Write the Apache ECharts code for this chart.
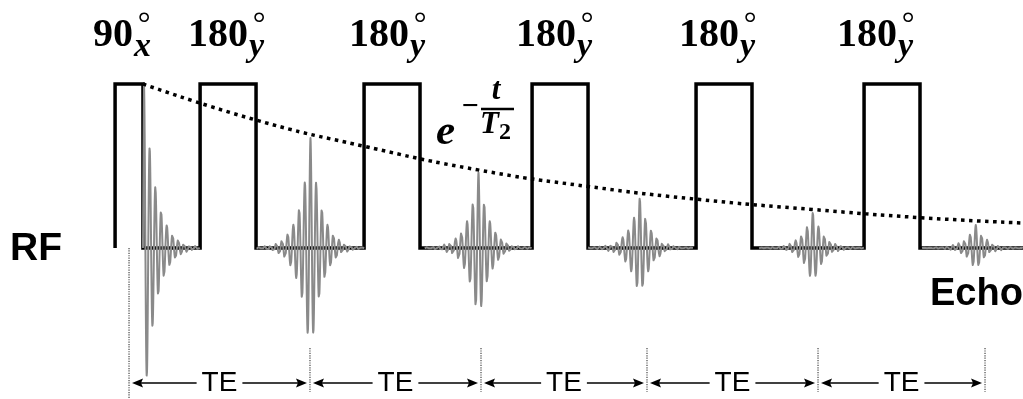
<!DOCTYPE html>
<html><head><meta charset="utf-8">
<script src="https://cdn.jsdelivr.net/npm/echarts@6/dist/echarts.min.js"></script>
<style>html,body{margin:0;padding:0;background:#fff}#chart{width:1023px;height:399px}</style>
</head><body><div id="chart"></div>
<script>
// CPMG spin-echo sequence. Time in ms, amplitude relative to the RF pulse height.
const excitation = [-0.83, 0.83];
const refocusing = [[4.23, 7.56], [13.99, 17.32], [23.99, 27.32], [33.75, 37.08], [43.75, 47.08]];
const flipAngles = ['90', '180', '180', '180', '180', '180'];
const phases = ['x', 'y', 'y', 'y', 'y', 'y'];
const fidStart = 0.89;
const fidAmp = 1.0;
const echoCenters = [10.8, 20.8, 30.4, 40.7, 50.4];
const echoAmps = [0.67, 0.46, 0.31, 0.22, 0.14];
const teMarks = [0, 10.77, 20.95, 30.83, 41.01, 50.95];
const decayT = [0.83, 7.56, 13.99, 20.77, 27.32, 33.99, 40.65, 47.08, 53.21];
const decayV = [1.0, 0.78, 0.62, 0.476, 0.375, 0.295, 0.235, 0.185, 0.152];
const carrierPeriod = 0.34;   // ms
const echoTau = 0.655;        // ms, echo envelope
const fidTau = 0.685;         // ms, FID envelope

const T_MIN = -7.68, T_MAX = 53.21;
const Y_MIN = -0.921, Y_MAX = 1.512;

// RF pulse train
const pulse = [[excitation[0], 0], [excitation[0], 1], [excitation[1], 1], [excitation[1], 0]];
refocusing.forEach(([a, b]) => pulse.push([a, 0], [a, 1], [b, 1], [b, 0]));
pulse.push([T_MAX, 0]);

// FID followed by the echo train
const step = 0.01;
const signal = [[excitation[1], 0]];
for (let t = fidStart; t <= refocusing[0][0]; t += step) {
  const d = t - fidStart;
  signal.push([t, fidAmp * Math.cos(2 * Math.PI * d / carrierPeriod) * Math.exp(-d / fidTau)]);
}
signal.push([refocusing[0][0], '-']);
echoCenters.forEach((c, i) => {
  const lo = Math.max(refocusing[i][1], c - 3.2);
  const hi = Math.min(i + 1 < refocusing.length ? refocusing[i + 1][0] : T_MAX, c + 3.2);
  for (let t = lo; t <= hi; t += step) {
    const d = t - c;
    signal.push([t, echoAmps[i] * Math.cos(2 * Math.PI * d / carrierPeriod) * Math.exp(-Math.abs(d) / echoTau)]);
  }
  signal.push([hi, '-']);
});

const pulseCenters = [(excitation[0] + excitation[1]) / 2].concat(refocusing.map(p => (p[0] + p[1]) / 2));
const labelShift = [-16, 0, -3, -4, -5, -15];
const TE_Y = -0.823;

const chart = echarts.init(document.getElementById('chart'), null, {renderer: 'canvas'});
chart.setOption({
  animation: false,
  backgroundColor: '#fff',
  grid: {left: 0, right: 0, top: 0, bottom: 0},
  xAxis: {type: 'value', min: T_MIN, max: T_MAX, show: false},
  yAxis: {type: 'value', min: Y_MIN, max: Y_MAX, show: false},
  graphic: [
    {type: 'text', x: 10, y: 249, style: {text: 'RF', font: 'bold 39px "Liberation Sans"', fill: '#000', align: 'left', verticalAlign: 'middle'}},
    {type: 'text', x: 930, y: 295, style: {text: 'Echo', font: 'bold 38px "Liberation Sans"', fill: '#000', align: 'left', verticalAlign: 'middle'}},
    {type: 'text', x: 436, y: 133, style: {text: 'e', font: 'italic bold 43px "Liberation Serif"', fill: '#000', align: 'left', verticalAlign: 'middle'}},
    {type: 'text', x: 470, y: 107, style: {text: '\u2212', font: 'bold 30px "Liberation Serif"', fill: '#000', align: 'center', verticalAlign: 'middle'}},
    {type: 'line', shape: {x1: 481, y1: 109, x2: 514, y2: 109}, style: {stroke: '#000', lineWidth: 2.5}},
    {type: 'text', x: 496, y: 91, style: {text: 't', font: 'italic bold 31px "Liberation Serif"', fill: '#000', align: 'center', verticalAlign: 'middle'}},
    {type: 'text', x: 480, y: 125, style: {text: 'T', font: 'italic bold 31px "Liberation Serif"', fill: '#000', align: 'left', verticalAlign: 'middle'}},
    {type: 'text', x: 499, y: 133, style: {text: '2', font: 'bold 24px "Liberation Serif"', fill: '#000', align: 'left', verticalAlign: 'middle'}}
  ],
  series: [
    {
      type: 'line', data: pulse, symbol: 'none', silent: true,
      lineStyle: {color: '#000', width: 3.5, join: 'miter', cap: 'butt'}
    },
    {
      type: 'line', data: signal, symbol: 'none', silent: true, connectNulls: false,
      lineStyle: {color: '#8a8a8a', width: 2, join: 'round'}
    },
    {
      type: 'line', data: decayT.map((t, i) => [t, decayV[i]]), symbol: 'none', silent: true,
      smooth: true,
      lineStyle: {color: '#000', width: 3.5, type: [3.5, 4.5], cap: 'butt'}
    },
    {
      // dotted TE markers
      type: 'custom', silent: true,
      data: teMarks.map((t, i) => [t, i]),
      renderItem: (params, api) => {
        const i = params.dataIndex;
        const a = api.coord([api.value(0), i === 0 ? 0 : -0.61]);
        const b = api.coord([api.value(0), i === 0 ? Y_MIN : -0.878]);
        return {type: 'line', shape: {x1: a[0], y1: a[1], x2: b[0], y2: b[1]},
          style: {stroke: '#6a6a6a', lineWidth: 1.5, lineDash: [1.2, 1.2]}};
      }
    },
    {
      // TE arrows
      type: 'custom', silent: true,
      data: teMarks.slice(0, -1).map((t, i) => [t, teMarks[i + 1]]),
      renderItem: (params, api) => {
        const p0 = api.coord([api.value(0), TE_Y]);
        const p1 = api.coord([api.value(1), TE_Y]);
        const y = p0[1];
        const x0 = p0[0] + 3, x1 = p1[0] - 3;
        const head = 11, half = 4.5;
        return {type: 'group', children: [
          {type: 'line', shape: {x1: x0 + 4, y1: y, x2: x1 - 4, y2: y}, style: {stroke: '#000', lineWidth: 1.6}},
          {type: 'polygon', shape: {points: [[x0, y], [x0 + head, y - half], [x0 + head - 2, y], [x0 + head, y + half]]}, style: {fill: '#000'}},
          {type: 'polygon', shape: {points: [[x1, y], [x1 - head, y - half], [x1 - head + 2, y], [x1 - head, y + half]]}, style: {fill: '#000'}},
          {type: 'text', x: (x0 + x1) / 2, y: y, style: {text: 'TE', font: '28px "Liberation Sans"', fill: '#000',
            align: 'center', verticalAlign: 'middle', backgroundColor: '#fff', padding: [0, 5]}}
        ]};
      }
    },
    {
      // flip-angle labels above each RF pulse
      type: 'custom', silent: true,
      data: pulseCenters.map((c) => [c, 1]),
      renderItem: (params, api) => {
        const i = params.dataIndex;
        const top = api.coord([api.value(0), 1]);
        const xr = top[0] + 20 + labelShift[i];
        return {type: 'group', children: [
          {type: 'text', x: xr, y: top[1] - 48, style: {text: flipAngles[i], font: 'bold 40px "Liberation Serif"', fill: '#000', align: 'right', verticalAlign: 'middle'}},
          {type: 'text', x: xr + 1, y: top[1] - 37, style: {text: phases[i], font: 'italic bold 34px "Liberation Serif"', fill: '#000', align: 'left', verticalAlign: 'middle'}},
          {type: 'text', x: xr + 11, y: top[1] - 58, style: {text: '\u00b0', font: '32px "Liberation Serif"', fill: '#000', align: 'center', verticalAlign: 'middle'}}
        ]};
      }
    }
  ]
});
</script></body></html>
